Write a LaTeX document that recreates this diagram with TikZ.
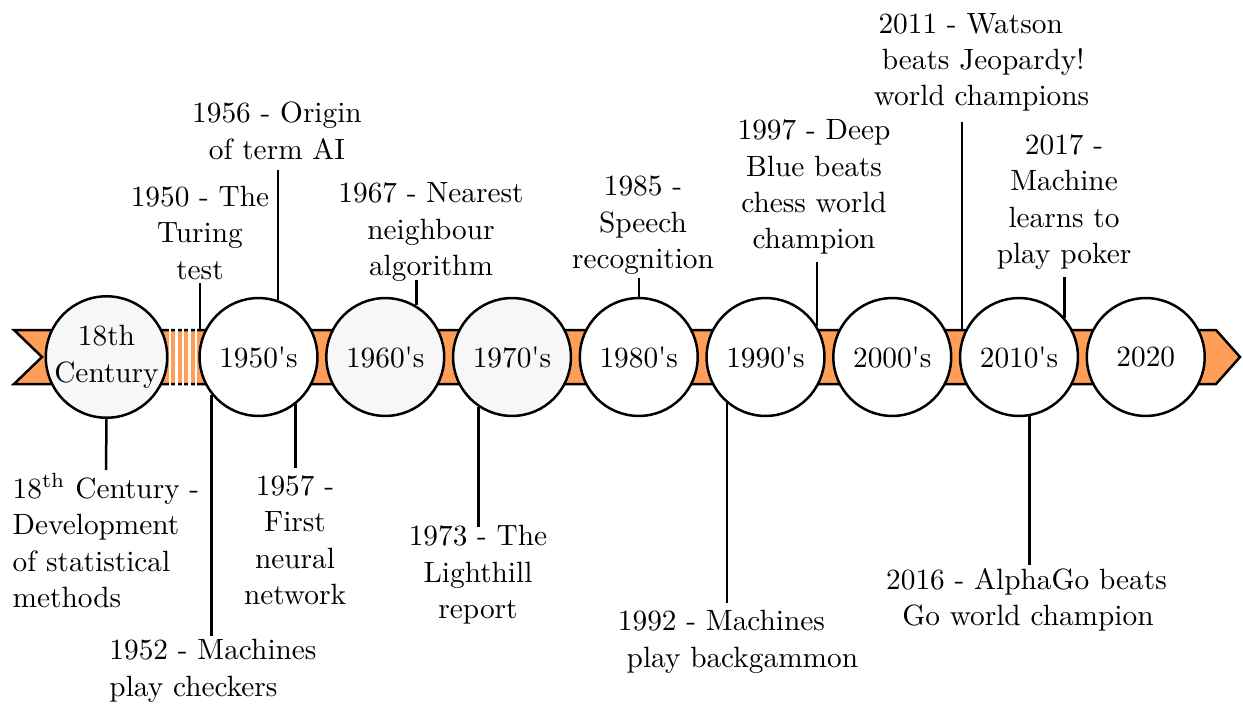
\documentclass[tikz,border=0pt]{standalone}
\usepackage{tikz}
\definecolor{ribbon}{RGB}{255,159,87}
\definecolor{shade}{RGB}{247,247,247}
\newcommand{\q}{\textquotesingle}
\begin{document}
\begin{tikzpicture}[x=0.341pt,y=-0.341pt,
  every node/.style={font=\fontsize{10pt}{12.4pt}\selectfont},
  era/.style={circle,draw,line width=0.85pt,minimum size=40.2pt,inner sep=0pt,align=center,fill=white},
  oldera/.style={era,fill=shade},
  event/.style={align=center,inner sep=1pt},
  link/.style={line width=0.85pt}]
\useasboundingbox (0,0) rectangle (1243,704);

% ribbon with notched tail and pointed head
\draw[line width=0.85pt,fill=ribbon]
  (14,330) -- (1216,330) -- (1240,357) -- (1216,384) -- (14,384) -- (42,357) -- cycle;
% break in the ribbon between the 18th century and the 1950's
\foreach \s in {170,176.5,183,189.5,196}
  \draw[white,line width=0.7pt] (\s,328) -- (\s,386);
\coordinate (bandtop) at (0,330);

% eras
\node[oldera] (c18)   at (106.5,357)  {18th\\Century};
\node[era]    (c1950) at (258.5,357)  {1950\q s};
\node[oldera] (c1960) at (385.25,357) {1960\q s};
\node[oldera] (c1970) at (512,357)    {1970\q s};
\node[era]    (c1980) at (638.75,357) {1980\q s};
\node[era]    (c1990) at (765.5,357)  {1990\q s};
\node[era]    (c2000) at (892.25,357) {2000\q s};
\node[era]    (c2010) at (1019,357)   {2010\q s};
\node[era]    (c2020) at (1145.75,357){2020};

% events above the ribbon
\node[event,anchor=south] (l1950) at (200,283) {1950 - The\\Turing\\test};
\draw[link] (l1950.south) -- (l1950.south |- bandtop);

\node[event,anchor=south] (l1956) at (277,163) {1956 - Origin\\of term AI};
\draw[link,shorten >=2.4pt] (c1950.71) -- (c1950.71 |- l1956.south);

\node[event,anchor=south] (l1967) at (431,285) {1967 - Nearest\\neighbour\\algorithm};
\draw[link,shorten >=-1.7pt] (c1960.59.7) -- (c1960.59.7 |- l1967.south);

\node[event,anchor=south] (l1985) at (643,278) {1985 -\\Speech\\recognition};
\draw[link] (c1980.90) -- (c1980.90 |- l1985.south);

\node[event,anchor=south] (l1997) at (814,258) {1997 - Deep\\Blue beats\\chess world\\champion};
\draw[link,shorten >=1.4pt] (c1990.31) -- (c1990.31 |- l1997.south);

\node[event,anchor=south,align=left] (l2011) at (981.5,115)
  {\hspace*{1.6pt}2011 - Watson\\\hspace*{2.7pt}beats Jeopardy!\\world champions};
\coordinate (k2011) at (962,330);
\draw[link,shorten >=2.4pt] (k2011) -- (k2011 |- l2011.south);

\node[event,anchor=south] (l2017) at (1064,273) {2017 -\\Machine\\learns to\\play poker};
\draw[link,shorten >=1.4pt] (c2010.41) -- (c2010.41 |- l2017.south);

% events below the ribbon
\node[event,anchor=north,align=left] (l18) at (106,470)
  {18$^{\mathrm{th}}$ Century -\\Development\\of statistical\\methods};
\draw[link] (c18.south) -- (l18.north);

\node[event,anchor=north,align=left] (l1952) at (213,636) {1952 - Machines\\play checkers};
\draw[link] (c1950.219.6) -- (c1950.219.6 |- l1952.north);

\node[event,anchor=north] (l1957) at (295,472) {1957 -\\First\\neural\\network};
\draw[link,shorten >=1.4pt] (c1950.308.2) -- (c1950.308.2 |- l1957.north);

\node[event,anchor=north] (l1973) at (478,522) {1973 - The\\Lighthill\\report};
\draw[link,shorten >=-1.7pt] (c1970.236) -- (c1970.236 |- l1973.north);

\node[event,anchor=north,align=left] (l1992) at (738,607)
  {1992 - Machines\\\hspace*{3pt}play backgammon};
\draw[link,shorten >=1.4pt] (c1990.230.5) -- (c1990.230.5 |- l1992.north);

\node[event,anchor=north,align=left] (l2016) at (1026.5,565)
  {2016 - AlphaGo beats\\\hspace*{5.5pt}Go world champion};
\draw[link] (c2010.280) -- (c2010.280 |- l2016.north);
\end{tikzpicture}
\end{document}
